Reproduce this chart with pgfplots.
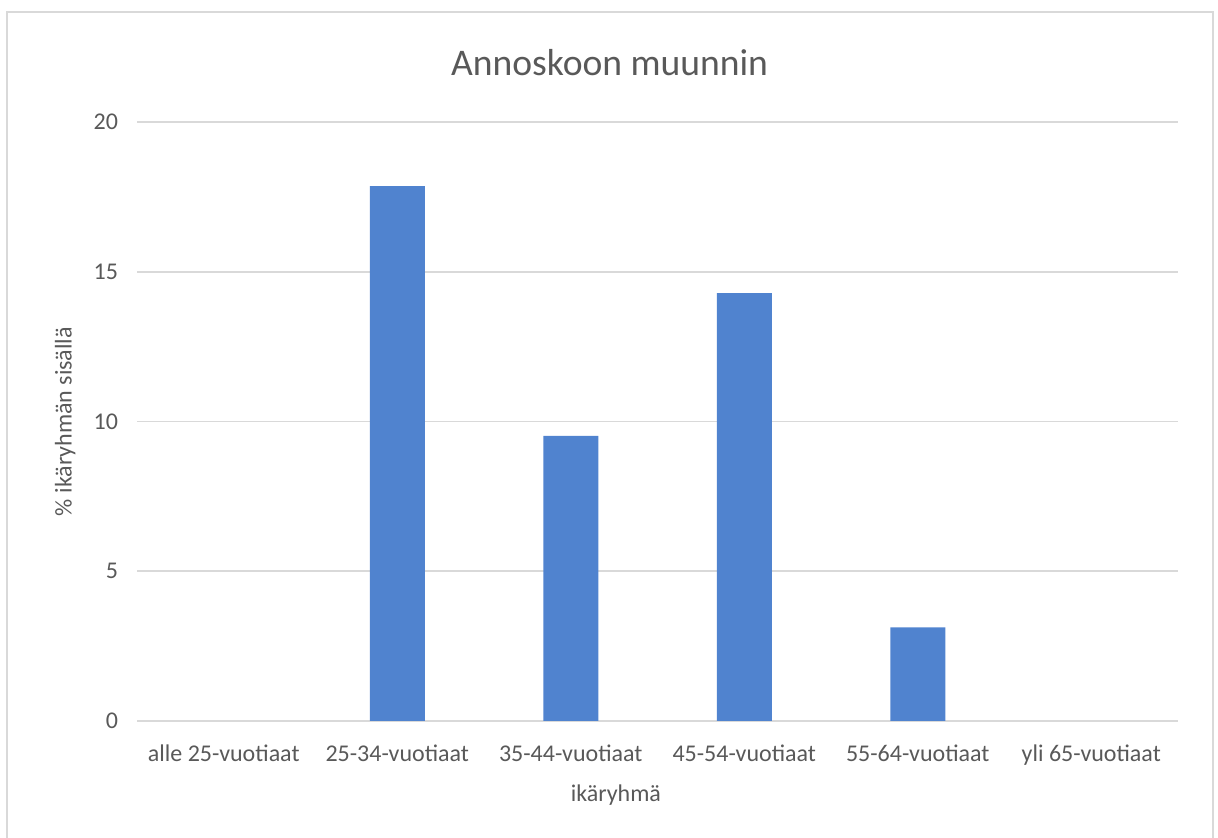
\documentclass[border=0pt]{standalone}
\usepackage{pgfplots}
\pgfplotsset{compat=1.18}
\usepackage{fontspec}
\setmainfont{Carlito}
\definecolor{barblue}{RGB}{80,131,207}
\definecolor{txtgray}{RGB}{89,89,89}
\definecolor{gridgray}{RGB}{217,217,217}
\begin{document}
\begin{tikzpicture}[x=0.5pt,y=0.5pt]
\useasboundingbox (0,0) rectangle (1218,838);
\draw[gridgray,line width=1.2pt] (7,-10) -- (7,826) -- (1213,826) -- (1213,-10);
\begin{axis}[
  at={(68.5pt,58.5pt)}, anchor=south west,
  scale only axis, width=520.5pt, height=299.5pt,
  xmin=-0.5, xmax=5.5, ymin=0, ymax=20,
  ytick={0,5,10,15,20},
  xtick={0,1,2,3,4,5},
  xticklabels={alle 25-vuotiaat,25-34-vuotiaat,35-44-vuotiaat,45-54-vuotiaat,55-64-vuotiaat,yli 65-vuotiaat},
  axis line style={draw=none},
  major tick length=0pt,
  ymajorgrids, grid style={gridgray,line width=0.8pt},
  /pgf/number format/assume math mode=true,
  tick label style={font=\fontsize{12}{14}\selectfont, text=txtgray},
  yticklabel style={xshift=-6pt},
  xticklabel style={yshift=-8.5pt},
  every axis title shift=0pt,
  title={Annoskoon muunnin},
  title style={font=\fontsize{18.8}{22}\selectfont, text=txtgray, at={(axis description cs:0.454,1.0985)}, anchor=center},
  xlabel={ikäryhmä},
  xlabel style={font=\fontsize{12}{14}\selectfont, text=txtgray, at={(axis description cs:0.46,-0.1235)}, anchor=center},
  ylabel={\% ikäryhmän sisällä},
  ylabel style={font=\fontsize{12}{14}\selectfont, text=txtgray, at={(axis description cs:-0.069,0.5)}, anchor=center},
]
\addplot[ybar, bar width=27.5pt, bar shift=0pt, fill=barblue, draw=none] coordinates {
  (1,17.86) (2,9.52) (3,14.29) (4,3.13)
};
\end{axis}
\end{tikzpicture}
\end{document}
